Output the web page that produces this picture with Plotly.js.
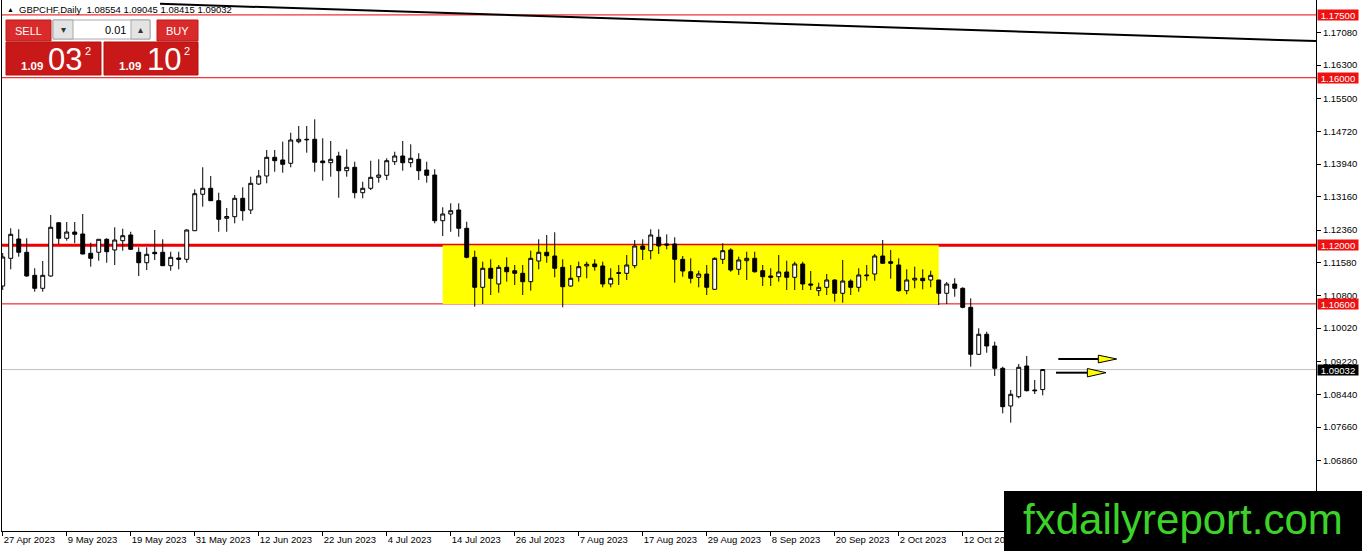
<!DOCTYPE html>
<html>
<head>
<meta charset="utf-8">
<script src="https://cdn.plot.ly/plotly-3.0.1.min.js"></script>
<style>html,body{margin:0;padding:0;background:#fff;}#chart{width:1362px;height:551px;}</style>
</head>
<body>
<div id="chart"></div>
<script>
// ---- Data (GBPCHF Daily, 27 Apr 2023 .. 26 Oct 2023, weekday bars) ----
const openP = [1.11027,1.11688,1.12149,1.11832,1.11282,1.10972,1.11266,1.12538,1.12166,1.12316,
1.12269,1.11808,1.11832,1.12142,1.11887,1.12109,1.12245,1.11832,1.11583,1.11832,
1.11832,1.11512,1.11696,1.11664,1.12347,1.13217,1.13360,1.13064,1.12644,1.12682,
1.13121,1.12842,1.13462,1.13654,1.14100,1.14036,1.13957,1.14473,1.14530,1.14530,
1.14012,1.13971,1.14131,1.13780,1.13861,1.13255,1.13360,1.13622,1.13670,1.13995,
1.14131,1.13971,1.14052,1.13797,1.13677,1.12586,1.12746,1.12842,1.12405,1.11712,
1.10996,1.11450,1.11075,1.11473,1.11392,1.11330,1.11130,1.11624,1.11832,1.11743,
1.11473,1.11027,1.11249,1.11505,1.11552,1.11505,1.11075,1.11345,1.11330,1.11512,
1.11982,1.11870,1.12190,1.12030,1.12030,1.11664,1.11368,1.11235,1.11313,1.10948,
1.11664,1.11887,1.11426,1.11631,1.11688,1.11392,1.11266,1.11249,1.11361,1.11235,
1.11552,1.11075,1.10915,1.10996,1.11170,1.10853,1.11146,1.10996,1.11290,1.11313,
1.11743,1.11607,1.11528,1.10915,1.11170,1.11211,1.11170,1.11170,1.10853,1.11075,
1.10972,1.10518,1.09396,1.09874,1.09594,1.09062,1.08162,1.08384,1.09117,1.08544,
1.08554];
const highP = [1.11815,1.12405,1.12381,1.12166,1.11450,1.11624,1.12722,1.12538,1.12555,1.12555,
1.12746,1.12061,1.12142,1.12166,1.12429,1.12395,1.12323,1.11951,1.11951,1.12364,
1.12142,1.11846,1.11846,1.12381,1.13336,1.13861,1.13654,1.13255,1.12889,1.13200,
1.13384,1.13637,1.13797,1.14274,1.14274,1.14473,1.14687,1.14847,1.14847,1.15007,
1.14554,1.14489,1.14234,1.14291,1.13995,1.13517,1.14019,1.14052,1.14076,1.14234,
1.14489,1.14410,1.14196,1.13995,1.13814,1.12906,1.13002,1.13002,1.12562,1.11870,
1.11607,1.11664,1.11528,1.11712,1.11528,1.11528,1.11870,1.12142,1.12245,1.12309,
1.11664,1.11528,1.11607,1.11607,1.11664,1.11607,1.11450,1.11528,1.11767,1.12125,
1.12142,1.12381,1.12381,1.12261,1.12190,1.11743,1.11688,1.11392,1.11528,1.11712,
1.12047,1.11927,1.11727,1.11846,1.11846,1.11528,1.11450,1.11767,1.11631,1.11607,
1.11607,1.11385,1.11106,1.11313,1.11187,1.11648,1.11187,1.11450,1.11528,1.11791,
1.12125,1.11887,1.11688,1.11426,1.11488,1.11426,1.11392,1.11170,1.11122,1.11211,
1.10996,1.10733,1.10017,1.09936,1.09697,1.09100,1.08544,1.09164,1.09356,1.08782,
1.09045];
const lowP = [1.10931,1.11426,1.11727,1.11249,1.10891,1.10891,1.11249,1.12030,1.12109,1.12047,
1.11784,1.11488,1.11631,1.11583,1.11528,1.11870,1.11887,1.11266,1.11409,1.11648,
1.11512,1.11392,1.11426,1.11583,1.12340,1.12921,1.13057,1.12323,1.12323,1.12524,
1.12586,1.12746,1.13439,1.13479,1.13756,1.13732,1.13861,1.14434,1.14210,1.13756,
1.13541,1.13637,1.13135,1.13637,1.13121,1.13121,1.13319,1.13494,1.13558,1.13916,
1.13780,1.13861,1.13558,1.13494,1.12524,1.12221,1.12323,1.12204,1.11688,1.10533,
1.10597,1.10812,1.10867,1.11130,1.11051,1.10812,1.10915,1.11426,1.11583,1.11235,
1.10518,1.11010,1.11130,1.11211,1.11392,1.10996,1.10996,1.11051,1.11170,1.11450,
1.11648,1.11664,1.11791,1.11903,1.11106,1.11249,1.11091,1.10996,1.10812,1.10931,
1.11552,1.11368,1.11290,1.11170,1.11345,1.11027,1.11027,1.11130,1.10931,1.10931,
1.10931,1.10931,1.10788,1.10812,1.10652,1.10628,1.10812,1.10891,1.11153,1.11153,
1.11569,1.11201,1.10891,1.10829,1.10972,1.10948,1.10996,1.10573,1.10597,1.10771,
1.10494,1.09100,1.09379,1.09434,1.08878,1.07987,1.07763,1.08345,1.08510,1.08448,
1.08415];
const closeP = [1.11719,1.12261,1.11832,1.11266,1.10972,1.11282,1.12429,1.12166,1.12316,1.12261,
1.11791,1.11688,1.12142,1.11846,1.12125,1.12228,1.11903,1.11583,1.11784,1.11798,
1.11512,1.11712,1.11664,1.12364,1.13231,1.13360,1.13064,1.12620,1.12686,1.13121,
1.12825,1.13479,1.13654,1.14100,1.14019,1.13933,1.14513,1.14530,1.14520,1.13981,
1.13971,1.14052,1.13780,1.13861,1.13255,1.13360,1.13622,1.13677,1.14019,1.14131,
1.13971,1.14076,1.13780,1.13670,1.12586,1.12746,1.12825,1.12405,1.11712,1.10996,
1.11450,1.11211,1.11473,1.11368,1.11330,1.11130,1.11688,1.11832,1.11750,1.11450,
1.11010,1.11211,1.11488,1.11545,1.11488,1.11075,1.11211,1.11330,1.11528,1.11982,
1.11903,1.12245,1.11982,1.12006,1.11664,1.11385,1.11211,1.11313,1.10996,1.11688,
1.11870,1.11409,1.11648,1.11688,1.11368,1.11249,1.11235,1.11361,1.11235,1.11552,
1.11075,1.11051,1.10996,1.11170,1.10853,1.11146,1.10996,1.11290,1.11274,1.11743,
1.11569,1.11569,1.10915,1.11170,1.11211,1.11154,1.11282,1.10853,1.11075,1.10972,
1.10518,1.09396,1.09874,1.09594,1.09062,1.08145,1.08441,1.09086,1.08527,1.08527,
1.09032];

// x-axis tick labels (every 8th bar)
const tickBars  = [0,8,16,24,32,40,48,56,64,72,80,88,96,104,112,120];
const tickDates = ["27 Apr 2023","9 May 2023","19 May 2023","31 May 2023","12 Jun 2023","22 Jun 2023",
  "4 Jul 2023","14 Jul 2023","26 Jul 2023","7 Aug 2023","17 Aug 2023","29 Aug 2023",
  "8 Sep 2023","20 Sep 2023","2 Oct 2023","12 Oct 2023"];

// price axis ticks
const priceTicks = [1.17080,1.16300,1.15500,1.14720,1.13940,1.13160,1.12360,1.11580,1.10800,1.10020,1.09220,1.08440,1.07660,1.06860,1.06080];

// analyst drawings
const redLevels = [1.17500, 1.16000, 1.12000, 1.10600];
const redLevelWidths = [1, 1, 3, 1];
const bidPrice = 1.09032;
const zoneBars = [55, 117];
const zonePrices = [1.10600, 1.12000];
const trendBars = [19.66, 164.5];
const trendPrices = [1.17765, 1.16872];
// arrows: [lineStartBar, headBaseBar, tipBar, price, headHalfHeight]
const arrowBars1 = [131.95, 136.95, 139.25]; const arrowPrice1 = 1.09284; const arrowHalf1 = 0.00092;
const arrowBars2 = [131.66, 135.58, 137.91]; const arrowPrice2 = 1.08957; const arrowHalf2 = 0.00100;

const xs = openP.map((_, i) => i);

// pixel helpers for the overlay widgets (plot area: x 2..1316, y 0..531)
const PX = p => (p - 2) / 1314;
const PY = p => 1 - p / 531;

const font = "Liberation Sans, Arial, sans-serif";

const trace = {
  type: 'candlestick',
  x: xs, open: openP, high: highP, low: lowP, close: closeP,
  increasing: {line: {color: '#000', width: 1}, fillcolor: '#ffffff'},
  decreasing: {line: {color: '#000', width: 1}, fillcolor: '#000000'},
  whiskerwidth: 0,
  hoverinfo: 'skip'
};

const shapes = [];
shapes.push({type:'rect', xref:'x', yref:'y', x0: zoneBars[0], x1: zoneBars[1], y0: zonePrices[0], y1: zonePrices[1],
  fillcolor:'#ffff00', line:{width:0}, layer:'below'});
redLevels.forEach((lv, k) => shapes.push({type:'line', xref:'paper', yref:'y', x0:0, x1:1, y0:lv, y1:lv,
  line:{color:'#ee0000', width: redLevelWidths[k]}, layer:'below'}));
shapes.push({type:'line', xref:'paper', yref:'y', x0:0, x1:1, y0:bidPrice, y1:bidPrice, line:{color:'#c0c0c0', width:1}, layer:'below'});
shapes.push({type:'line', xref:'x', yref:'y', x0:trendBars[0], x1:trendBars[1], y0:trendPrices[0], y1:trendPrices[1],
  line:{color:'#000', width:2}, layer:'above'});
function arrow(b, p, h) {
  shapes.push({type:'line', xref:'x', yref:'y', x0:b[0], x1:b[1], y0:p, y1:p, line:{color:'#000', width:2}, layer:'above'});
  shapes.push({type:'path', xref:'x', yref:'y',
    path:`M ${b[1]} ${p+h} L ${b[2]} ${p} L ${b[1]} ${p-h} Z`,
    fillcolor:'#ffff00', line:{color:'#000', width:1}, layer:'above'});
}
arrow(arrowBars1, arrowPrice1, arrowHalf1);
arrow(arrowBars2, arrowPrice2, arrowHalf2);

// trade panel
function prect(x0, y0, x1, y1, fill, lc) {
  shapes.push({type:'rect', xref:'paper', yref:'paper', x0:PX(x0), x1:PX(x1), y0:PY(y1), y1:PY(y0),
    fillcolor: fill, line:{color: lc || fill, width: lc ? 1 : 0}, layer:'above'});
}
prect(6, 20, 51, 41, '#d92b2b', '#c01818');
prect(6, 42, 101, 75, '#c81818', '#b01010');
prect(53, 20, 150, 39, '#ffffff', '#a8a8a8');
prect(53, 20, 73, 39, '#e4e4e4', '#a8a8a8');
prect(131, 20, 150, 39, '#e4e4e4', '#a8a8a8');
prect(157, 20, 198, 41, '#d92b2b', '#c01818');
prect(104, 42, 198, 75, '#c81818', '#b01010');
// logo box
prect(1004, 491, 1362, 551, '#000000');

const annotations = [];
function ptext(x, y, t, size, color, anchor, extra) {
  annotations.push(Object.assign({xref:'paper', yref:'paper', x:PX(x), y:PY(y), text:t, showarrow:false,
    xanchor: anchor || 'center', yanchor:'middle', font:{family:font, size:size, color:color}}, extra || {}));
}
ptext(5, 10, '▲', 7, '#000', 'left');
ptext(17, 10, 'GBPCHF,Daily  1.08554 1.09045 1.08415 1.09032', 9.5, '#000', 'left');
ptext(28.5, 30.5, 'SELL', 11, '#fff');
ptext(177.5, 30.5, 'BUY', 11, '#fff');
ptext(63, 29.5, '▾', 10, '#333');
ptext(140.5, 29.5, '▴', 10, '#333');
ptext(128, 29.5, '0.01', 11, '#000', 'right');
ptext(31.5, 66, '<b>1.09</b>', 11.5, '#fff');
ptext(65, 60, '03', 31, '#fff');
ptext(88, 51, '2', 11, '#fff');
ptext(129.5, 66, '<b>1.09</b>', 11.5, '#fff');
ptext(164, 60, '10', 31, '#fff');
ptext(187, 51, '2', 11, '#fff');
ptext(1183, 519, 'fxdailyreport.com', 42, '#3dd22a');

// right-axis level labels
function levelLabel(p, bg) {
  annotations.push({xref:'paper', yref:'y', x:1, xshift:1, y:p, xanchor:'left', yanchor:'middle', showarrow:false,
    text: p.toFixed(5), bgcolor:bg, width:40, height:10, borderpad:0, align:'center',
    font:{family:font, size:9.5, color:'#fff'}});
}
redLevels.forEach(lv => levelLabel(lv, '#ee1111'));
levelLabel(bidPrice, '#000000');

const layout = {
  width:1362, height:551,
  margin:{l:2, r:46, t:0, b:20, pad:0},
  paper_bgcolor:'#fff', plot_bgcolor:'#fff',
  showlegend:false,
  dragmode:false,
  xaxis:{type:'linear', range:[-0.09, 164.16], tickmode:'array', tickvals:tickBars, ticktext:tickDates,
    ticks:'outside', ticklen:4, tickcolor:'#000', ticklabelposition:'outside right',
    showline:true, linecolor:'#000', linewidth:1, showgrid:false, zeroline:false,
    rangeslider:{visible:false}, fixedrange:true,
    tickfont:{family:font, size:9.5, color:'#000'}},
  yaxis:{side:'right', range:[1.05177, 1.17856], tickmode:'array', tickvals:priceTicks,
    ticktext:priceTicks.map(v => v.toFixed(5)),
    ticks:'outside', ticklen:4, tickcolor:'#000', showline:true, mirror:true, linecolor:'#000', linewidth:1,
    showgrid:false, zeroline:false, fixedrange:true,
    tickfont:{family:font, size:9.5, color:'#000'}},
  shapes: shapes,
  annotations: annotations
};

Plotly.newPlot('chart', [trace], layout, {staticPlot:true, displayModeBar:false});
</script>
</body>
</html>
